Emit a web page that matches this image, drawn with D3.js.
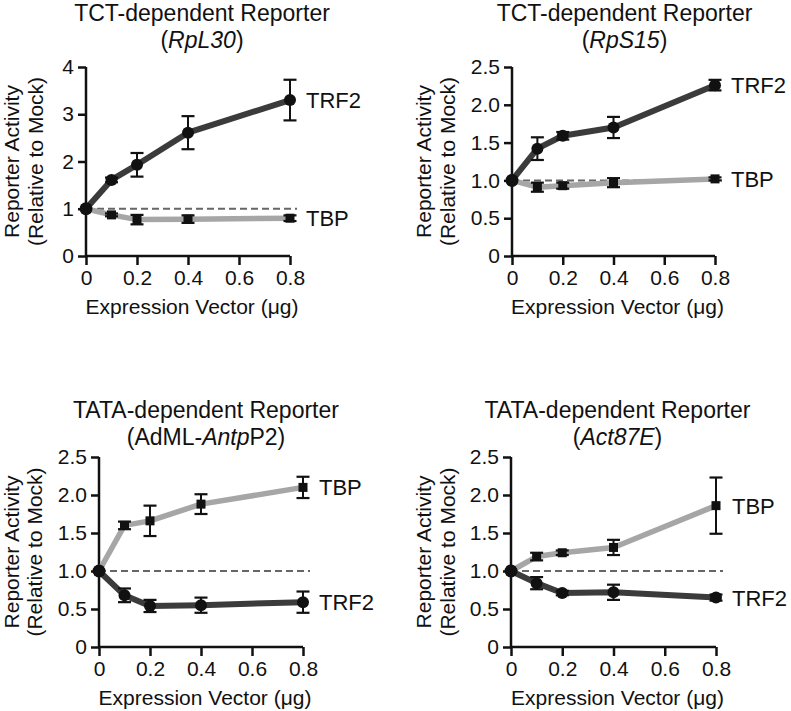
<!DOCTYPE html>
<html><head><meta charset="utf-8">
<script src="https://cdn.jsdelivr.net/npm/d3@7"></script>
<style>
body{margin:0;background:#fff}
svg{display:block}
text{font-family:"Liberation Sans",Arial,Helvetica,sans-serif;fill:#111}
</style>
</head><body>
<svg id="c" width="791" height="711"></svg>
<script>
// ---------- DATA ----------
const doses = [0, 0.1, 0.2, 0.4, 0.8];
const xTickValues = [0, 0.2, 0.4, 0.6, 0.8];
const titleLine1 = ["TCT-dependent Reporter", "TCT-dependent Reporter", "TATA-dependent Reporter", "TATA-dependent Reporter"];
// [text, italic]
const titleLine2 = [
  [["(", false], ["RpL30", true], [")", false]],
  [["(", false], ["RpS15", true], [")", false]],
  [["(AdML-", false], ["Antp", true], ["P2)", false]],
  [["(", false], ["Act87E", true], [")", false]]
];
const yMaxes = [4, 2.5, 2.5, 2.5];
const yTickValues = [
  [0, 1, 2, 3, 4],
  [0, 0.5, 1, 1.5, 2, 2.5],
  [0, 0.5, 1, 1.5, 2, 2.5],
  [0, 0.5, 1, 1.5, 2, 2.5]
];
const trf2Mean = [
  [1, 1.61, 1.93, 2.61, 3.30],
  [1, 1.42, 1.59, 1.70, 2.26],
  [1, 0.68, 0.54, 0.55, 0.59],
  [1, 0.84, 0.71, 0.72, 0.65]
];
const trf2Err = [
  [0, 0.05, 0.25, 0.35, 0.43],
  [0, 0.15, 0.05, 0.14, 0.07],
  [0, 0.09, 0.08, 0.10, 0.14],
  [0, 0.08, 0.03, 0.10, 0.04]
];
const tbpMean = [
  [1, 0.87, 0.77, 0.78, 0.80],
  [1, 0.91, 0.93, 0.97, 1.02],
  [1, 1.60, 1.66, 1.88, 2.10],
  [1, 1.19, 1.24, 1.31, 1.86]
];
const tbpErr = [
  [0, 0.03, 0.10, 0.08, 0.06],
  [0, 0.06, 0.04, 0.06, 0.02],
  [0, 0.05, 0.20, 0.13, 0.14],
  [0, 0.05, 0.03, 0.10, 0.37]
];
const seriesNames = ["TRF2", "TBP"];
const xLabel = "Expression Vector (\u03bcg)";
const yLabel1 = "Reporter Activity";
const yLabel2 = "(Relative to Mock)";

// ---------- LAYOUT ----------
const layout = [
  {x0: 86,  x1: 290, yb: 256, yt: 67,  t1: 21,  t2: 48,  tdx: 14, yl1: -67, yl2: -43},
  {x0: 512, x1: 715, yb: 256, yt: 67,  t1: 21,  t2: 48,  tdx: 11, yl1: -81, yl2: -57},
  {x0: 99,  x1: 303, yb: 647, yt: 457, t1: 418, t2: 445, tdx: 5,  yl1: -80, yl2: -57},
  {x0: 511, x1: 716, yb: 647, yt: 457, t1: 418, t2: 445, tdx: 4,  yl1: -80, yl2: -56}
];
const colTRF2 = "#3b3b3b", colTBP = "#a6a6a6";

const svg = d3.select("#c");

layout.forEach((L, i) => {
  const g = svg.append("g");
  const x = d3.scaleLinear().domain([0, 0.8]).range([L.x0, L.x1]);
  const y = d3.scaleLinear().domain([0, yMaxes[i]]).range([L.yb, L.yt]);
  const fmt = v => v === 0 ? "0" : (yMaxes[i] === 4 ? d3.format("d")(v) : d3.format(".1f")(v));

  // Title
  const cx = (L.x0 + L.x1) / 2 + L.tdx;
  g.append("text").attr("x", cx).attr("y", L.t1).attr("text-anchor", "middle")
    .style("font-size", "23px").text(titleLine1[i]);
  const t2 = g.append("text").attr("x", cx).attr("y", L.t2).attr("text-anchor", "middle")
    .style("font-size", "23px");
  titleLine2[i].forEach(([s, it]) => t2.append("tspan").style("font-style", it ? "italic" : "normal").text(s));

  // Axes
  const xAxis = d3.axisBottom(x).tickValues(xTickValues).tickSize(9).tickPadding(5)
    .tickFormat(v => v === 0 ? "0" : d3.format(".1f")(v));
  const gx = g.append("g").attr("transform", `translate(0,${L.yb})`).call(xAxis);
  const yAxis = d3.axisLeft(y).tickValues(yTickValues[i]).tickSize(8).tickPadding(4).tickFormat(fmt);
  const gy = g.append("g").attr("transform", `translate(${L.x0},0)`).call(yAxis);
  [gx, gy].forEach(a => {
    a.select(".domain").attr("stroke", "#111").attr("stroke-width", 2.5).attr("d",
      a === gx ? `M${L.x0},0H${L.x1}` : `M0,${L.yb}V${L.yt}`);
    a.selectAll(".tick line").attr("stroke", "#111").attr("stroke-width", 2.5);
    a.selectAll(".tick text").style("font-size", "21px").attr("fill", "#111");
  });
  gx.selectAll(".tick text").attr("dy", "0.71em");

  // Axis labels
  g.append("text").attr("x", (L.x0 + L.x1) / 2 + 4).attr("y", L.yb + 58).attr("text-anchor", "middle")
    .style("font-size", "21px").text(xLabel);
  const ymid = (L.yb + L.yt) / 2;
  g.append("text").attr("transform", `translate(${L.x0 + L.yl1},${ymid}) rotate(-90)`)
    .attr("text-anchor", "middle").style("font-size", "21px").text(yLabel1);
  g.append("text").attr("transform", `translate(${L.x0 + L.yl2},${ymid}) rotate(-90)`)
    .attr("text-anchor", "middle").style("font-size", "21px").text(yLabel2);

  // Reference dashed line at 1
  g.append("line").attr("x1", x(0)).attr("x2", x(0.8) + 7).attr("y1", y(1)).attr("y2", y(1))
    .attr("stroke", "#666").attr("stroke-width", 2).attr("stroke-dasharray", "7,4");

  const series = [
    {name: seriesNames[0], mean: trf2Mean[i], err: trf2Err[i], col: colTRF2, shape: "circle", w: 6},
    {name: seriesNames[1], mean: tbpMean[i], err: tbpErr[i], col: colTBP, shape: "square", w: 5.5}
  ];
  const line = d3.line().x((d, k) => x(doses[k])).y(d => y(d));
  // lines (TBP below TRF2)
  [series[1], series[0]].forEach(s => {
    g.append("path").datum(s.mean).attr("d", line).attr("fill", "none")
      .attr("stroke", s.col).attr("stroke-width", s.w).attr("stroke-linejoin", "round");
  });
  series.forEach(s => {
    const eb = g.append("g");
    s.mean.forEach((m, k) => {
      if (s.err[k] <= 0) return;
      const xx = x(doses[k]), yt = y(m + s.err[k]), ybt = y(m - s.err[k]);
      eb.append("line").attr("x1", xx).attr("x2", xx).attr("y1", yt).attr("y2", ybt)
        .attr("stroke", "#111").attr("stroke-width", 2);
      [yt, ybt].forEach(yy => eb.append("line").attr("x1", xx - 6.5).attr("x2", xx + 6.5)
        .attr("y1", yy).attr("y2", yy).attr("stroke", "#111").attr("stroke-width", 2.2));
    });
  });
  series.forEach(s => {
    s.mean.forEach((m, k) => {
      if (s.shape === "circle") {
        g.append("circle").attr("cx", x(doses[k])).attr("cy", y(m)).attr("r", 6).attr("fill", "#111");
      } else {
        g.append("rect").attr("x", x(doses[k]) - 4.5).attr("y", y(m) - 4.5)
          .attr("width", 9).attr("height", 9).attr("fill", "#111");
      }
    });
    g.append("text").attr("x", x(0.8) + 16).attr("y", y(s.mean[s.mean.length - 1]))
      .attr("dy", "0.36em").style("font-size", "22px").text(s.name);
  });
  // shared origin point drawn as circle on top
  g.append("circle").attr("cx", x(0)).attr("cy", y(1)).attr("r", 6.5).attr("fill", "#111");
});
</script>
</body></html>
